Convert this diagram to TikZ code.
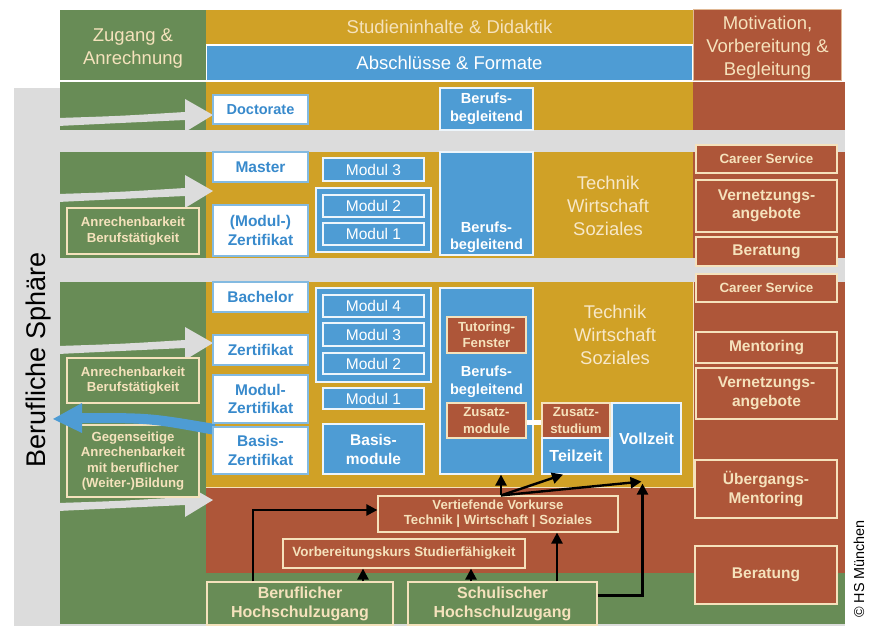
\documentclass[tikz,border=0pt]{standalone}
\usepackage{fontspec}
\setmainfont{Liberation Sans}
\usetikzlibrary{arrows.meta,positioning}
\definecolor{zgreen}{RGB}{104,140,86}
\definecolor{zgold}{RGB}{208,161,38}
\definecolor{zblue}{RGB}{78,156,212}
\definecolor{zred}{RGB}{174,86,57}
\definecolor{zgray}{RGB}{220,220,220}
\definecolor{zcream}{RGB}{245,226,188}
\definecolor{zblutext}{RGB}{56,138,204}
\tikzset{sz/.style 2 args={minimum width=#1pt,minimum height=#2pt},
         every node/.style={inner sep=1pt,align=center},
         white box/.style={rectangle,fill=white,draw=zblue!70,line width=1.2pt,text=zblutext,font=\bfseries\fontsize{15.5}{18.5}\selectfont},
         blue box/.style={rectangle,fill=zblue,draw=white!90!zblue,line width=1.2pt,text=white,font=\fontsize{15.5}{18}\selectfont},
         bb/.style={blue box,font=\bfseries\fontsize{14.6}{17.5}\selectfont},
         red box/.style={rectangle,fill=zred,draw=zcream,line width=1.2pt,text=zcream,font=\bfseries\fontsize{15.5}{18.5}\selectfont},
         small red/.style={red box,font=\bfseries\fontsize{13.4}{16.5}\selectfont},
         green box/.style={rectangle,fill=zgreen,draw=zcream,line width=1.2pt,text=zcream,font=\bfseries\fontsize{13.2}{15.5}\selectfont},
         head/.style={rectangle,text=zcream,font=\fontsize{18.5}{23}\selectfont},
         area label/.style={text=zcream!80!white,font=\fontsize{18.4}{23}\selectfont},
}

\begin{document}
\begin{tikzpicture}[x=1pt,y=-1pt,>={Triangle[length=11pt,width=11pt]},
flow/.style={->,line width=2.4pt}]
\useasboundingbox (0,0) rectangle (872,626);
\fill[zgray] (14,88) rectangle (845,626);
% header
\node[head,fill=zgreen,sz={146}{70}] (zugang) at (133,45) {};
\node[head] (zugangt) at (133,49) {Zugang \&\\Anrechnung};
\node[head,fill=zgold,sz={487}{34}] (inhalt) at (449.5,27) {Studieninhalte \& Didaktik};
\node[head,fill=zblue,text=white,sz={485}{34}] (format) at (449.5,63) {Abschlüsse \& Formate};
\node[head,fill=zred,draw=zcream!70!zred,line width=1pt,sz={148}{70}] (motiv) at (767.5,45) {};
\node[head] (motivt) at (767.5,48) {Motivation,\\Vorbereitung \&\\Begleitung};
% rows
\fill[zgreen] (60,82) rectangle (206,130);
\fill[zgold] (206,82) rectangle (693,130);
\fill[zred] (693,82) rectangle (845,130);
\fill[zgreen] (60,152) rectangle (206,258);
\fill[zgold] (206,152) rectangle (693,258);
\fill[zred] (693,152) rectangle (845,258);
\fill[zgreen] (60,282) rectangle (206,624);
\fill[zgreen] (206,573) rectangle (845,624);
\fill[zred] (693,282) rectangle (845,573);
\fill[zred] (206,487) rectangle (693,573);
\fill[zgold] (206,282) rectangle (693,487);
\draw[zcream,line width=1pt] (206,487) -- (693,487) -- (693,282);
% gray arrows
\foreach \t in {115,191,343,500}
  \fill[zgray] (58,\t+3) .. controls (120,\t+1) .. (185,\t-3) -- (185,\t-16) -- (213,\t)
    -- (185,\t+17) -- (185,\t+5) .. controls (120,\t+8) .. (58,\t+11) -- cycle;
\node[rotate=90,font=\fontsize{27}{30}\selectfont] (sphere) at (39,360) {Berufliche Sphäre};
% zugang
\node[green box,sz={132}{46}] (anr1) at (133,231) {Anrechenbarkeit\\Berufstätigkeit};
\node[green box,sz={132}{45}] (anr2) at (133,380.5) {Anrechenbarkeit\\Berufstätigkeit};
\node[green box,sz={132}{72}] (gegen) at (133,461) {Gegenseitige\\Anrechenbarkeit\\mit beruflicher\\(Weiter-)Bildung};
\fill[zblue] (215,424) .. controls (150,413) .. (82,413) -- (82,403) -- (53,419) -- (82,433)
  -- (82,423) .. controls (150,423) .. (215,435) -- cycle;
% abschluesse
\node[white box,sz={95}{29},font=\bfseries\fontsize{14.5}{17}\selectfont] (doct) at (260.5,109.5) {Doctorate};
\node[white box,sz={95}{30}] (master) at (260.5,167) {Master};
\node[white box,sz={95}{51}] (modzert) at (260.5,230.5) {(Modul-)\\Zertifikat};
\node[white box,sz={95}{30}] (bach) at (260.5,297) {Bachelor};
\node[white box,sz={95}{30}] (zert) at (260.5,350) {Zertifikat};
\node[white box,sz={95}{48}] (modz) at (260.5,399) {Modul-\\Zertifikat};
\node[white box,sz={95}{47}] (basz) at (260.5,450.5) {Basis-\\Zertifikat};
% module
\node[blue box,sz={101}{23}] (m3a) at (373.5,169.5) {Modul 3};
\node[blue box,sz={115}{64}] (grpa) at (373.5,220) {};
\node[blue box,sz={101}{22}] (m2a) at (373.5,206) {Modul 2};
\node[blue box,sz={101}{22}] (m1a) at (373.5,234) {Modul 1};
\node[blue box,sz={115}{94}] (grpb) at (373.5,335) {};
\node[blue box,sz={101}{22}] (m4b) at (373.5,306) {Modul 4};
\node[blue box,sz={101}{23}] (m3b) at (373.5,334.5) {Modul 3};
\node[blue box,sz={101}{21}] (m2b) at (373.5,363.5) {Modul 2};
\node[blue box,sz={101}{21}] (m1b) at (373.5,398.5) {Modul 1};
\node[bb,sz={101}{50},font=\bfseries\fontsize{15.5}{19}\selectfont] (basm) at (373.5,449) {Basis-\\module};
% berufsbegleitend
\node[bb,sz={93}{42}] (bb1) at (486.5,109) {Berufs-\\begleitend};
\node[bb,sz={93}{103}] (bb2) at (486.5,203.5) {};
\node[bb,draw=none,fill=none,above=1pt of bb2.south] (bb2t) {Berufs-\\begleitend};
\node[bb,sz={93}{186}] (bb3) at (486.5,381) {};
\node[bb,draw=none,fill=none] (bb3t) at (486.5,382) {Berufs-\\begleitend};
\node[small red,sz={79}{36},font=\bfseries\fontsize{13.2}{16}\selectfont] (tut) at (486.5,335) {Tutoring-\\Fenster};
\node[small red,sz={79}{35},font=\bfseries\fontsize{13.2}{16.5}\selectfont] (zmod) at (486.5,420.5) {Zusatz-\\module};
\node[small red,sz={68}{35},font=\bfseries\fontsize{13.2}{16.5}\selectfont] (zstud) at (576,420.5) {Zusatz-\\studium};
\node[bb,sz={68}{36},font=\bfseries\fontsize{16}{19}\selectfont] (teil) at (576,456) {Teilzeit};
\node[bb,sz={69}{71},font=\bfseries\fontsize{16}{19}\selectfont] (voll) at (646.5,438.5) {Vollzeit};
\draw[white,line width=5pt] ([yshift=-1.5pt]zmod.east) -- ([yshift=-1.5pt]zstud.west);
\node[area label] (tws2) at (608,206) {Technik\\Wirtschaft\\Soziales};
\node[area label] (tws3) at (615,335) {Technik\\Wirtschaft\\Soziales};
% begleitung
\node[small red,sz={141}{28}] (cs1) at (766.5,159) {Career Service};
\node[red box,sz={141}{52}] (vern1) at (766.5,206) {Vernetzungs-\\angebote};
\node[red box,sz={141}{29}] (ber1) at (766.5,251.5) {Beratung};
\node[small red,sz={141}{28}] (cs2) at (766.5,288) {Career Service};
\node[red box,sz={141}{31}] (ment) at (766.5,347.5) {Mentoring};
\node[red box,sz={141}{51}] (vern2) at (766.5,393.5) {Vernetzungs-\\angebote};
\node[red box,sz={142}{58}] (ueber) at (766,489) {Übergangs-\\Mentoring};
\node[red box,sz={142}{58}] (ber2) at (766,575) {Beratung};
% vorbereitung
\node[small red,sz={240}{36},font=\bfseries\fontsize{13.2}{15}\selectfont] (vork) at (498,514) {Vertiefende Vorkurse\\Technik | Wirtschaft | Soziales};
\node[small red,sz={242}{29}] (vorb) at (404,553.5) {Vorbereitungskurs Studierfähigkeit};
\node[green box,sz={186}{43},font=\bfseries\fontsize{16}{19}\selectfont] (beruf) at (300,603.5) {Beruflicher\\Hochschulzugang};
\node[green box,sz={189}{43},font=\bfseries\fontsize{16}{19}\selectfont] (schul) at (502.5,603.5) {Schulischer\\Hochschulzugang};
% pfeile
\coordinate (vk) at ([xshift=3pt]vork.north);
\draw[flow] (vk) -- (vk |- bb3.south);
\draw[flow] (vk) -- ([xshift=-13pt]teil.south);
\draw[flow] (vk) -- ([xshift=-5pt,yshift=-7pt]voll.south);
\draw[flow] ([xshift=-47pt]beruf.north) |- ([yshift=4pt]vork.west);
\draw[flow] ([xshift=63pt]beruf.north) coordinate (b2) -- (b2 |- vorb.south);
\draw[flow] ([xshift=-31.5pt]schul.north) coordinate (s1) -- (s1 |- vorb.south);
\draw[flow] ([xshift=54.5pt]schul.north) coordinate (s2) -- (s2 |- vork.south);
\draw[flow] ([yshift=8pt]schul.east) -| ([xshift=-4pt,yshift=-9pt]voll.south);
\node[rotate=90,font=\fontsize{14.4}{16}\selectfont] (copy) at (859,569) {© HS München};
\end{tikzpicture}
\end{document}
